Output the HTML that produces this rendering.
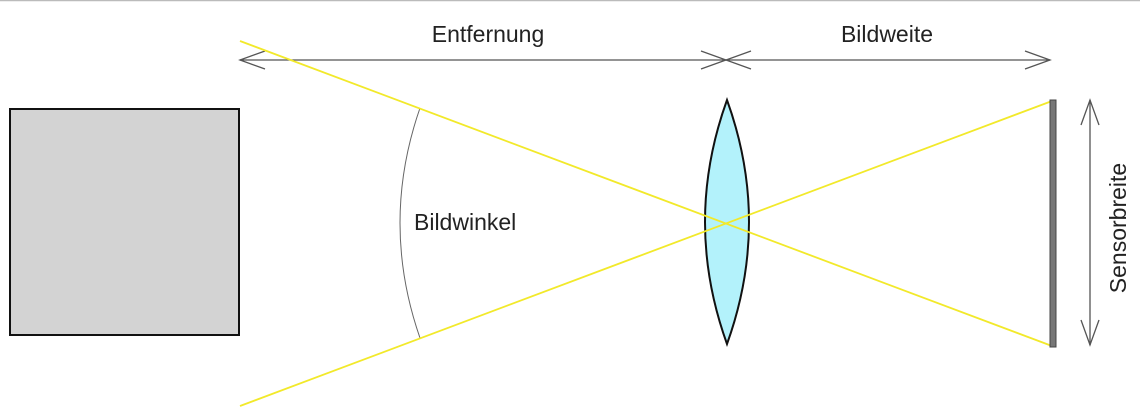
<!DOCTYPE html>
<html><head><meta charset="utf-8"><style>
html,body{margin:0;padding:0;background:#fff;}
svg{display:block;}
text{font-family:"Liberation Sans","DejaVu Sans",sans-serif;fill:#222;}
</style></head><body>
<svg width="1140" height="414" viewBox="0 0 1140 414">
<rect x="0" y="0" width="1140" height="414" fill="#fff"/>
<line x1="0" y1="0.5" x2="1140" y2="0.5" stroke="#bbb" stroke-width="1.5"/>
<rect x="10" y="109" width="229" height="226" fill="#d3d3d3" stroke="#111" stroke-width="2"/>
<g stroke="#555" stroke-width="1.3" fill="none">
<line x1="240" y1="60" x2="1050" y2="60"/>
<polyline points="265,51 240,60 265,69"/>
<polyline points="701,51 726,60 701,69"/>
<polyline points="751,51 726,60 751,69"/>
<polyline points="1025,51 1050,60 1025,69"/>
<line x1="1090" y1="100" x2="1090" y2="345"/>
<polyline points="1081,125 1090,100 1099,125"/>
<polyline points="1081,320 1090,345 1099,320"/>
<path d="M420,108 Q380,223 420,338" stroke="#666" stroke-width="1"/>
</g>
<path d="M727,100 Q683,222 727,344 Q771,222 727,100 Z" fill="#b3f2fb" stroke="#111" stroke-width="2"/>
<g stroke="#f2e92a" stroke-width="1.8">
<line x1="240" y1="41" x2="1052" y2="346"/>
<line x1="240" y1="406" x2="1052" y2="101"/>
</g>
<rect x="1050" y="100" width="6" height="247" fill="#777" stroke="#444" stroke-width="1"/>
<text x="488" y="42" font-size="23" text-anchor="middle">Entfernung</text>
<text x="887" y="42" font-size="23" text-anchor="middle">Bildweite</text>
<text x="414" y="230" font-size="23">Bildwinkel</text>
<text x="0" y="0" font-size="23" text-anchor="middle" transform="translate(1126,228) rotate(-90)">Sensorbreite</text>
</svg>
</body></html>
